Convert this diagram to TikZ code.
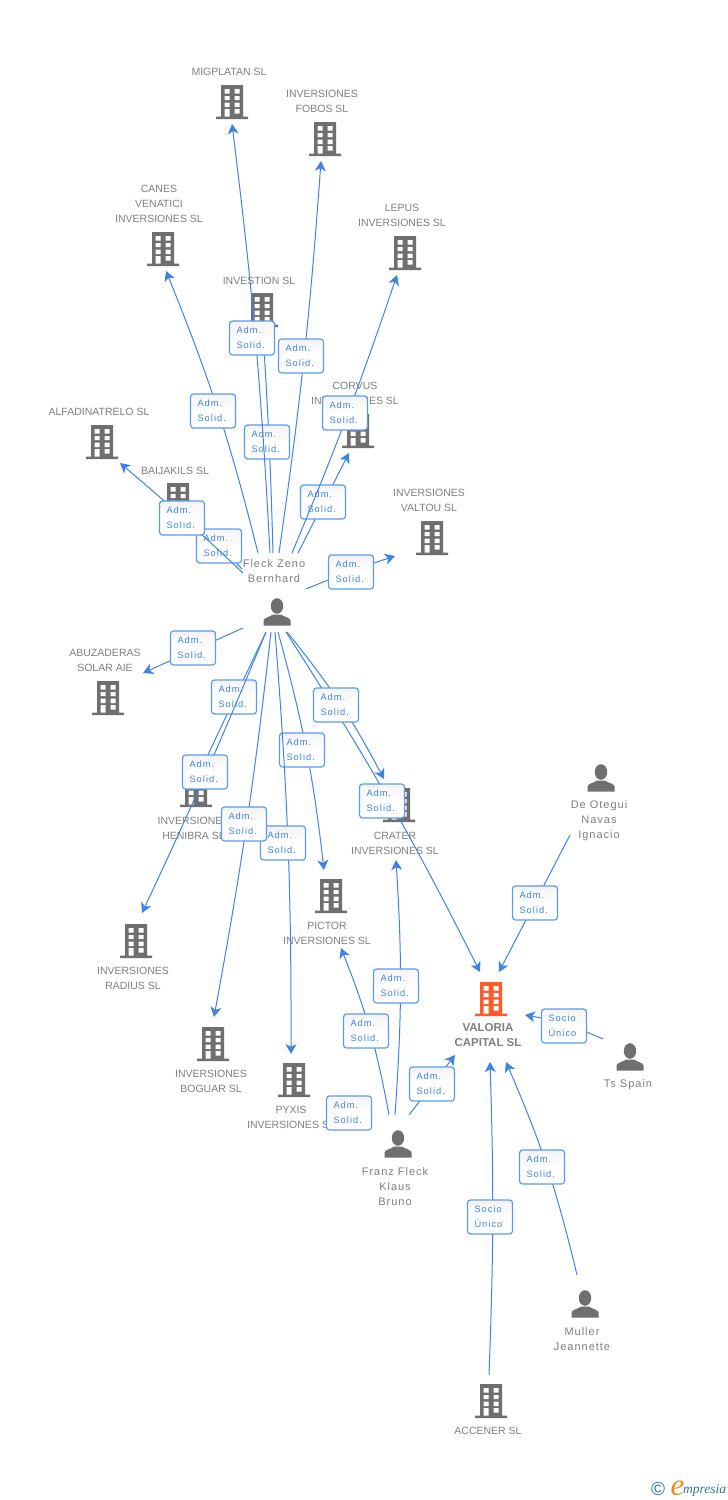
\documentclass[tikz,border=0pt]{standalone}
\usepackage{fontspec}
\setmainfont{Liberation Sans}
\newfontfamily\lblfont[LetterSpace=11]{Liberation Sans}
\newfontfamily\namefont[LetterSpace=9]{Liberation Sans}
\newfontfamily\logoserif{Liberation Serif}
\usetikzlibrary{arrows.meta}
\definecolor{bgray}{HTML}{6F6F6F}
\definecolor{tgray}{HTML}{808080}
\definecolor{lblue}{HTML}{3F84E5}
\definecolor{bordblue}{HTML}{5C9AEA}
\definecolor{boxtop}{HTML}{F3F3F3}
\definecolor{vorange}{HTML}{FF5A2C}
\definecolor{logoteal}{HTML}{2F7592}
\definecolor{logoor}{HTML}{F28A1C}
\tikzset{
  conn/.style={draw=lblue,line width=1pt,-{Stealth[length=10pt,width=11pt,inset=2.8pt]}},
  lbox/.style={rounded corners=3pt,draw=bordblue,line width=1.2pt,top color=boxtop,bottom color=white,middle color=white,
    minimum width=45pt,minimum height=34pt,text width=31pt,inner xsep=7pt,inner ysep=0pt,align=left,
    text=lblue,font=\lblfont\fontsize{9.3}{15}\selectfont},
  blabel/.style={text=tgray,align=center,inner sep=0pt,yshift=-0.8pt,font=\fontsize{10.5}{15}\selectfont},
  plabel/.style={text=tgray,align=center,inner sep=0pt,yshift=-0.8pt,font=\namefont\fontsize{11}{15}\selectfont},
  vlabel/.style={text=tgray,align=center,inner sep=0pt,yshift=-0.8pt,font=\bfseries\fontsize{11.5}{15}\selectfont},
  iconbox/.style={inner sep=0pt,minimum width=32pt,minimum height=34pt},
  personbox/.style={inner sep=0pt,minimum width=27pt,minimum height=27pt}
}
\newcommand\Bld[4][bgray]{%
  \node[iconbox] (#2) at (#3,#4) {};
  \begin{scope}[shift={(#2.center)}]
    \fill[#1] (-11,-17) rectangle (11,15) (-16,14.6) rectangle (16,17);
    \fill[white] (-7.3,-13) rectangle (-2.3,-8.5) (2.7,-13) rectangle (7.7,-8.5)
      (-7.3,-6) rectangle (-2.3,-2) (2.7,-6) rectangle (7.7,-2)
      (-7.3,0.7) rectangle (-2.3,5) (2.7,0.7) rectangle (7.7,5)
      (-7.3,7) rectangle (-2.3,14.6) (2.7,7) rectangle (7.7,11.7);
  \end{scope}}
\newcommand\Per[3]{%
  \node[personbox] (#1) at (#2,#3) {};
  \begin{scope}[shift={(#1.center)}]
    \fill[bgray] (0,-6) ellipse (6.2 and 7.8);
    \fill[bgray] (-13.5,13.5) -- (-13.5,8.5) .. controls (-13,5.5) and (-7,5) .. (-4,2.5)
      -- (4,2.5) .. controls (7,5) and (13,5.5) .. (13.5,8.5) -- (13.5,13.5) -- cycle;
  \end{scope}}
% id, start, tip, to-options, box position, box text
\newcommand\Edge[6]{%
  \coordinate (#1s) at (#2);
  \coordinate (#1t) at (#3);
  \draw[conn] (#1s) to[#4] (#1t);
  \node[lbox] (#1b) at (#5) {#6};}
\newcommand\AS{\raisebox{-1pt}{Adm.}\\\raisebox{-1pt}{Solid.}}
\newcommand\SU{\raisebox{-1pt}{Socio}\\\raisebox{-1pt}{Único}}
\begin{document}
\begin{tikzpicture}[x=1pt,y=-1pt]
\useasboundingbox (0,0) rectangle (728,1500);
\fill[white] (0,0) rectangle (728,1500);
% buildings
\Bld{migplatan}{232}{102}
\Bld{fobos}{325}{139}
\Bld{canes}{163}{249}
\Bld{lepus}{405}{253}
\Bld{investion}{262}{310}
\Bld{corvus}{358}{431}
\Bld{alfa}{102}{442}
\Bld{baijakils}{178}{500}
\Bld{valtou}{432}{538}
\Bld{abuz}{108}{698}
\Bld{henibra}{196}{790}
\Bld{crater}{399}{805}
\Bld{pictor}{331}{896}
\Bld{radius}{136}{941}
\Bld{boguar}{213}{1044}
\Bld{pyxis}{294}{1080}
\Bld[vorange]{valoria}{491}{999}
\Bld{accener}{491}{1401}
% persons
\Per{fleck}{277}{612}
\Per{otegui}{601}{778}
\Per{tsspain}{630}{1057}
\Per{franz}{398}{1144}
\Per{muller}{585}{1304}
% labels
\node[blabel] (tmig) at (229,71) {MIGPLATAN SL};
\node[blabel] (tfob) at (322,100.5) {INVERSIONES\\FOBOS SL};
\node[blabel] (tcan) at (159,203) {CANES\\VENATICI\\INVERSIONES SL};
\node[blabel] (tlep) at (402,214.5) {LEPUS\\INVERSIONES SL};
\node[blabel] (tinv) at (259,280) {INVESTION SL};
\node[blabel] (tcor) at (355,392.5) {CORVUS\\INVERSIONES SL};
\node[blabel] (talf) at (99,411) {ALFADINATRELO SL};
\node[blabel] (tbai) at (175,470) {BAIJAKILS SL};
\node[blabel] (tval) at (429,499.5) {INVERSIONES\\VALTOU SL};
\node[blabel] (tabu) at (105,659.5) {ABUZADERAS\\SOLAR AIE};
\node[blabel] (then) at (193.5,827.5) {INVERSIONES\\HENIBRA SL};
\node[blabel] (tcra) at (395,842.5) {CRATER\\INVERSIONES SL};
\node[blabel] (tpic) at (327,932.5) {PICTOR\\INVERSIONES SL};
\node[blabel] (trad) at (133,977.5) {INVERSIONES\\RADIUS SL};
\node[blabel] (tbog) at (211,1080.5) {INVERSIONES\\BOGUAR SL};
\node[blabel] (tpyx) at (291,1116.5) {PYXIS\\INVERSIONES SL};
\node[blabel] (tacc) at (488,1430) {ACCENER SL};
\node[vlabel] (tvlr) at (488,1034.5) {VALORIA\\CAPITAL SL};
\node[plabel] (tfle) at (274,570.5) {Fleck Zeno\\Bernhard};
\node[plabel] (tote) at (599,820) {De Otegui\\Navas\\Ignacio};
\node[plabel] (tts) at (628,1084) {Ts Spain};
\node[plabel] (tfra) at (395,1186) {Franz Fleck\\Klaus\\Bruno};
\node[plabel] (tmul) at (582,1338.5) {Muller\\Jeannette};
% connectors and their labels, in stacking order
\Edge{e1}{298,553}{349,453}{bend left=0}{323,502}{\AS}
\Edge{e2}{292,553}{397,275}{bend right=2}{345,413}{\AS}
\Edge{e3}{273,553}{263,333}{bend right=1}{267,442}{\AS}
\Edge{e4}{270,553}{232,124}{bend right=2}{252,338}{\AS}
\Edge{e5}{279,553}{321,161}{bend right=2}{301,356}{\AS}
\Edge{e6}{258,553}{166,271}{bend right=4}{213,411}{\AS}
\Edge{e7}{242,569}{192,517}{bend left=0}{219,546}{\AS}
\Edge{e8}{243,573}{120,463}{bend right=1.5}{182,518}{\AS}
\Edge{e9}{306,589}{395,556}{bend left=2}{351,572}{\AS}
\Edge{e10}{243,628}{143,673}{bend left=0}{193,648}{\AS}
\Edge{e11}{266,632}{197,778}{bend left=0}{234,697}{\AS}
\Edge{e12}{266,632}{142,913}{bend left=1.3}{205,772}{\AS}
\Edge{e13}{278,632}{324,870}{bend left=4.4}{302,750}{\AS}
\Edge{e14}{275,632}{291,1054}{bend left=2.3}{283,843}{\AS}
\Edge{e15}{271,632}{214,1017}{bend left=2}{244,824}{\AS}
\Edge{e17}{286,632}{480,972}{bend left=3}{382,801}{\AS}
\Edge{e16}{287,632}{384,779}{bend left=5.5}{336,705}{\AS}
\Edge{e18}{570,835}{499,972}{bend left=0}{535,903}{\AS}
\Edge{e19}{603,1039}{525,1015}{bend right=7}{564,1026}{\SU}
\Edge{e20}{409,1115}{455,1055}{bend left=0}{432,1084}{\AS}
\Edge{e21}{395,1115}{396,860}{bend right=3.8}{396,986}{\AS}
\Edge{e22}{389,1115}{341,948}{bend right=5.6}{366,1031}{\AS}
\node[lbox] (e23b) at (349,1113) {\AS};
\Edge{e24}{577,1275}{506,1062}{bend right=5}{542,1167}{\AS}
\Edge{e25}{489,1375}{490,1062}{bend right=2}{490,1217}{\SU}
% logo
\node[inner sep=0pt,text=logoteal,font=\fontsize{19}{19}\selectfont] (logoc) at (658,1489) {©};
\node[inner sep=0pt,anchor=base,text=logoor,font=\logoserif\itshape\fontsize{31}{31}\selectfont] (logoe) at (677.5,1495) {e};
\node[inner sep=0pt,anchor=base west,text=logoteal,font=\logoserif\itshape\fontsize{13.5}{13.5}\selectfont] (logom) at (683,1493) {mpresia};
\end{tikzpicture}
\end{document}
